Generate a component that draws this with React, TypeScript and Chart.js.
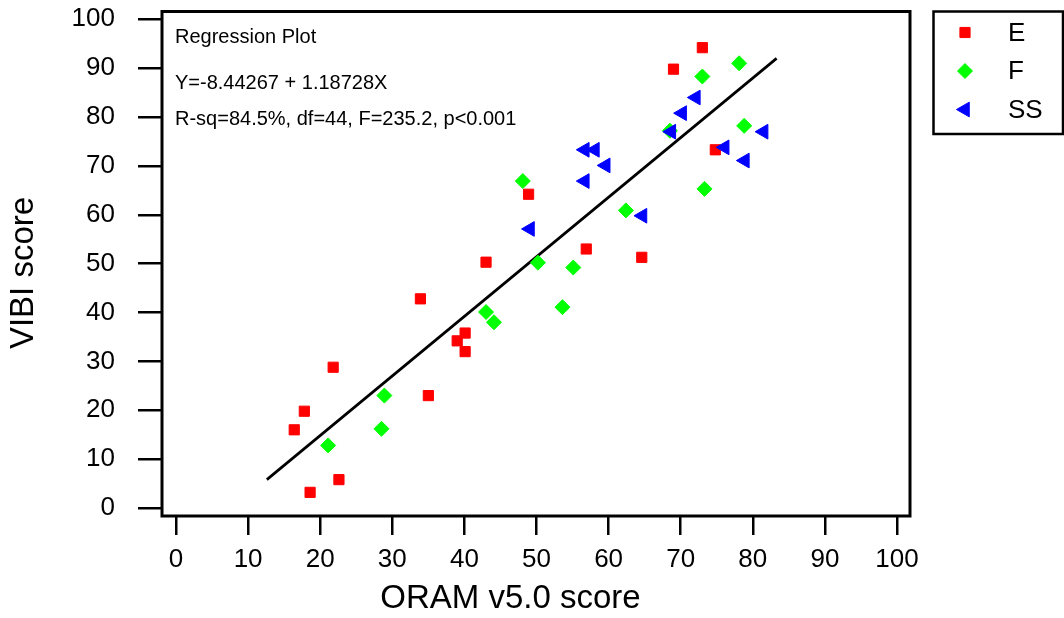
import React, { useEffect, useRef } from 'react';
import { Chart, registerables } from 'chart.js';

Chart.register(...registerables);

const FONT = "'Liberation Sans', Arial, Helvetica, sans-serif";

// ---- data ----
const seriesNames = ['E', 'F', 'SS'];
const eX = [73.0, 69.0, 74.8, 48.9, 43.0, 33.9, 40.1, 39.0, 40.1, 21.8, 56.9, 64.6, 35.0, 17.8, 16.4, 22.6, 18.6];
const eY = [94.2, 89.8, 73.3, 64.2, 50.3, 42.8, 35.8, 34.2, 32.0, 28.8, 53.0, 51.3, 23.0, 19.8, 16.0, 5.8, 3.2];
const fX = [78.1, 73.0, 68.5, 78.8, 48.1, 73.3, 50.2, 43.0, 44.1, 62.4, 55.1, 53.6, 28.9, 28.5, 21.1];
const fY = [91.0, 88.3, 77.2, 78.2, 66.9, 65.3, 50.2, 40.1, 38.0, 60.9, 49.2, 41.1, 23.0, 16.2, 12.8];
const ssX = [72.1, 70.2, 68.7, 81.5, 76.1, 78.9, 56.7, 58.1, 59.6, 56.7, 49.1, 64.7];
const ssY = [84.0, 80.8, 77.0, 77.0, 73.8, 71.1, 73.3, 73.3, 70.1, 66.9, 57.1, 59.8];
const fitX = [12.6, 83.3];
const fitY = [5.8, 92.0];
const xTicks = [0, 10, 20, 30, 40, 50, 60, 70, 80, 90, 100];
const yTicks = [0, 10, 20, 30, 40, 50, 60, 70, 80, 90, 100];
const statLines = ['Regression Plot', 'Y=-8.44267 + 1.18728X', 'R-sq=84.5%, df=44, F=235.2, p<0.001'];
const xTitle = 'ORAM v5.0 score';
const yTitle = 'VIBI score';

const colors = ['#ff0000', '#00ff00', '#0000ff'];
const radii = [7.2, 7.5, 8.5];

function pts(xs: number[], ys: number[]) {
  return xs.map((x, i) => ({ x, y: ys[i] }));
}

function drawMarker(ctx: CanvasRenderingContext2D, kind: number, cx: number, cy: number) {
  ctx.fillStyle = colors[kind];
  ctx.strokeStyle = colors[kind];
  ctx.lineWidth = 1;
  ctx.beginPath();
  const r = radii[kind];
  if (kind === 0) {
    const h = r * Math.SQRT1_2;
    ctx.rect(cx - h, cy - h, 2 * h, 2 * h);
  } else if (kind === 1) {
    ctx.moveTo(cx, cy - r);
    ctx.lineTo(cx + r, cy);
    ctx.lineTo(cx, cy + r);
    ctx.lineTo(cx - r, cy);
    ctx.closePath();
  } else {
    ctx.moveTo(cx - r, cy);
    ctx.lineTo(cx + r / 2, cy - (Math.sqrt(3) / 2) * r);
    ctx.lineTo(cx + r / 2, cy + (Math.sqrt(3) / 2) * r);
    ctx.closePath();
  }
  ctx.fill();
  ctx.stroke();
}

const decorPlugin = {
  id: 'decor',
  afterDraw(chart: any) {
    const { ctx, chartArea: a } = chart;
    ctx.save();
    // plot frame
    ctx.strokeStyle = '#000';
    ctx.lineWidth = 3;
    ctx.strokeRect(a.left, a.top, a.right - a.left, a.bottom - a.top);

    // regression statistics
    ctx.fillStyle = '#000';
    ctx.font = `20px ${FONT}`;
    ctx.textAlign = 'left';
    ctx.textBaseline = 'alphabetic';
    const baselines = [42.5, 89, 124.5];
    statLines.forEach((t, i) => ctx.fillText(t, 175, baselines[i]));

    // axis titles
    ctx.font = `33px ${FONT}`;
    ctx.textAlign = 'center';
    ctx.fillText(xTitle, 510.5, 608);
    ctx.save();
    ctx.translate(33.3, 273);
    ctx.rotate(-Math.PI / 2);
    ctx.fillText(yTitle, 0, 0);
    ctx.restore();

    // legend
    ctx.lineWidth = 2.5;
    ctx.strokeStyle = '#000';
    ctx.strokeRect(933.5, 11.5, 129.5, 122.5);
    const rows = [32.5, 71, 109.5];
    seriesNames.forEach((name, i) => {
      drawMarker(ctx, i, 965, rows[i]);
      ctx.fillStyle = '#000';
      ctx.font = `26px ${FONT}`;
      ctx.textAlign = 'left';
      ctx.textBaseline = 'middle';
      ctx.fillText(name, 1008, rows[i] + 1);
    });
    ctx.restore();
  },
};

export default function App() {
  const ref = useRef<HTMLCanvasElement | null>(null);

  useEffect(() => {
    if (!ref.current) return;
    const chart = new Chart(ref.current, {
      type: 'scatter',
      data: {
        datasets: [
          {
            label: seriesNames[0],
            data: pts(eX, eY),
            pointStyle: 'rect',
            pointRadius: radii[0],
            backgroundColor: colors[0],
            borderColor: colors[0],
            borderWidth: 1,
            order: 2,
          },
          {
            label: seriesNames[1],
            data: pts(fX, fY),
            pointStyle: 'rectRot',
            pointRadius: radii[1],
            backgroundColor: colors[1],
            borderColor: colors[1],
            borderWidth: 1,
            order: 3,
          },
          {
            label: seriesNames[2],
            data: pts(ssX, ssY),
            pointStyle: 'triangle',
            pointRotation: -90,
            pointRadius: radii[2],
            backgroundColor: colors[2],
            borderColor: colors[2],
            borderWidth: 1,
            order: 1,
          },
          {
            label: 'fit',
            data: pts(fitX, fitY),
            showLine: true,
            pointRadius: 0,
            borderColor: '#000',
            borderWidth: 2.7,
            backgroundColor: '#000',
            order: 4,
          },
        ] as any,
      },
      options: {
        animation: false,
        responsive: true,
        maintainAspectRatio: false,
        events: [],
        layout: { padding: { left: 0, top: 11.5, right: 154, bottom: 0 } },
        plugins: {
          legend: { display: false },
          tooltip: { enabled: false },
          title: { display: false },
        },
        scales: {
          x: {
            type: 'linear',
            min: -1.94,
            max: 101.8,
            afterBuildTicks: (s: any) => {
              s.ticks = xTicks.map((v) => ({ value: v }));
            },
            afterFit: (s: any) => {
              s.height = 102;
              s.paddingLeft = 0;
              s.paddingRight = 0;
            },
            grid: { drawOnChartArea: false, drawTicks: true, tickLength: 19, color: '#000', lineWidth: 2.5 },
            border: { display: false },
            ticks: { color: '#000', font: { family: FONT, size: 26 }, padding: 9, maxRotation: 0, autoSkip: false },
          },
          y: {
            type: 'linear',
            min: -1.64,
            max: 101.6,
            afterBuildTicks: (s: any) => {
              s.ticks = yTicks.map((v) => ({ value: v }));
            },
            afterFit: (s: any) => {
              s.width = 162;
              s.paddingTop = 0;
              s.paddingBottom = 0;
            },
            grid: { drawOnChartArea: false, drawTicks: true, tickLength: 24, color: '#000', lineWidth: 2.5 },
            border: { display: false },
            ticks: { color: '#000', font: { family: FONT, size: 26 }, padding: 23, autoSkip: false },
          },
        },
      } as any,
      plugins: [decorPlugin],
    });
    return () => chart.destroy();
  }, []);

  return (
    <div style={{ position: 'fixed', left: 0, top: 0, width: 1064, height: 618, background: '#fff' }}>
      <canvas ref={ref} />
    </div>
  );
}
